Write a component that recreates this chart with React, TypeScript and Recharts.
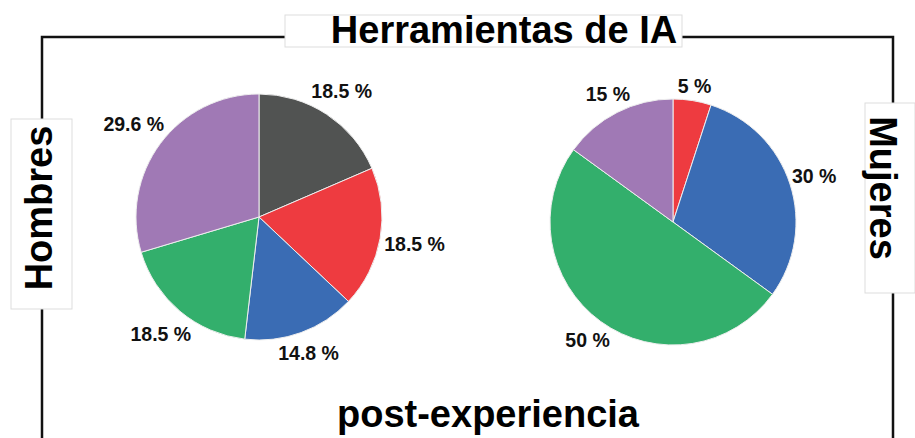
import { PieChart, Pie, Cell } from "recharts";

// Herramientas de IA, post-experiencia (%)
const hombresLabels = ["A", "B", "C", "D", "E"];
const hombresValues = [18.5, 18.5, 14.8, 18.5, 29.6];
const hombresColors = ["#515352", "#ee3b40", "#3a6cb4", "#33af6c", "#a079b5"];

const mujeresLabels = ["B", "C", "D", "E"];
const mujeresValues = [5, 30, 50, 15];
const mujeresColors = ["#ee3b40", "#3a6cb4", "#33af6c", "#a079b5"];

const title = "Herramientas de IA";
const leftTitle = "Hombres";
const rightTitle = "Mujeres";
const bottomTitle = "post-experiencia";

const FONT = '"Liberation Sans", Arial, Helvetica, sans-serif';
const W = 915;
const H = 438;

const hombresData = hombresLabels.map((name, i) => ({ name, value: hombresValues[i] }));
const mujeresData = mujeresLabels.map((name, i) => ({ name, value: mujeresValues[i] }));

const RAD = Math.PI / 180;

// label box sits just outside the slice, centred on its mid angle
function renderLabel(props: any) {
  const { cx, cy, midAngle, outerRadius, value } = props;
  const text = `${value} %`;
  const w = text.length * 10.3;
  const h = 18;
  const c = Math.cos(-midAngle * RAD);
  const s = Math.sin(-midAngle * RAD);
  const r = outerRadius + 3 + Math.abs(c) * (w / 2) + Math.abs(s) * (h / 2);
  return (
    <text
      x={cx + r * c}
      y={cy + r * s}
      textAnchor="middle"
      dominantBaseline="central"
      fontFamily={FONT}
      fontWeight="bold"
      fontSize={19.5}
      fill="#111"
    >
      {text}
    </text>
  );
}

function Frame() {
  return (
    <svg width={W} height={H} style={{ position: "absolute", left: 0, top: 0 }}>
      <polyline
        points={`42,${H} 42,37 893,37 893,${H}`}
        fill="none"
        stroke="#111"
        strokeWidth={2.5}
      />
      <rect x={285} y={15} width={397} height={32} fill="#fff" stroke="#ddd" strokeWidth={1} />
      <rect x={11} y={119} width={61} height={190} fill="#fff" stroke="#ddd" strokeWidth={1} />
      <rect x={865} y={103} width={50} height={190} fill="#fff" stroke="#ddd" strokeWidth={1} />
      <text x={504} y={43} textAnchor="middle" fontFamily={FONT} fontWeight="bold" fontSize={38} fill="#000">
        {title}
      </text>
      <text
        x={0}
        y={0}
        transform="translate(39,208) rotate(-90)"
        textAnchor="middle"
        dominantBaseline="central"
        fontFamily={FONT}
        fontWeight="bold"
        fontSize={38}
        fill="#000"
      >
        {leftTitle}
      </text>
      <text
        x={0}
        y={0}
        transform="translate(883,188) rotate(90)"
        textAnchor="middle"
        dominantBaseline="central"
        fontFamily={FONT}
        fontWeight="bold"
        fontSize={38}
        fill="#000"
      >
        {rightTitle}
      </text>
      <text x={488} y={427} textAnchor="middle" fontFamily={FONT} fontWeight="bold" fontSize={38} fill="#000">
        {bottomTitle}
      </text>
    </svg>
  );
}

export default function App() {
  return (
    <div style={{ position: "absolute", left: 0, top: 0, width: W, height: H, background: "#fff", overflow: "hidden" }}>
      <Frame />
      <div style={{ position: "absolute", left: 0, top: 0 }}>
        <PieChart width={W} height={H} margin={{ top: 0, right: 0, bottom: 0, left: 0 }}>
          <Pie
            data={hombresData}
            dataKey="value"
            nameKey="name"
            cx={259}
            cy={217}
            outerRadius={123}
            startAngle={90}
            endAngle={-270}
            stroke="#eeeeee"
            strokeWidth={1}
            label={renderLabel}
            labelLine={false}
            isAnimationActive={false}
          >
            {hombresData.map((d, i) => (
              <Cell key={d.name} fill={hombresColors[i]} />
            ))}
          </Pie>
          <Pie
            data={mujeresData}
            dataKey="value"
            nameKey="name"
            cx={673}
            cy={222}
            outerRadius={123}
            startAngle={90}
            endAngle={-270}
            stroke="#eeeeee"
            strokeWidth={1}
            label={renderLabel}
            labelLine={false}
            isAnimationActive={false}
          >
            {mujeresData.map((d, i) => (
              <Cell key={d.name} fill={mujeresColors[i]} />
            ))}
          </Pie>
        </PieChart>
      </div>
    </div>
  );
}
